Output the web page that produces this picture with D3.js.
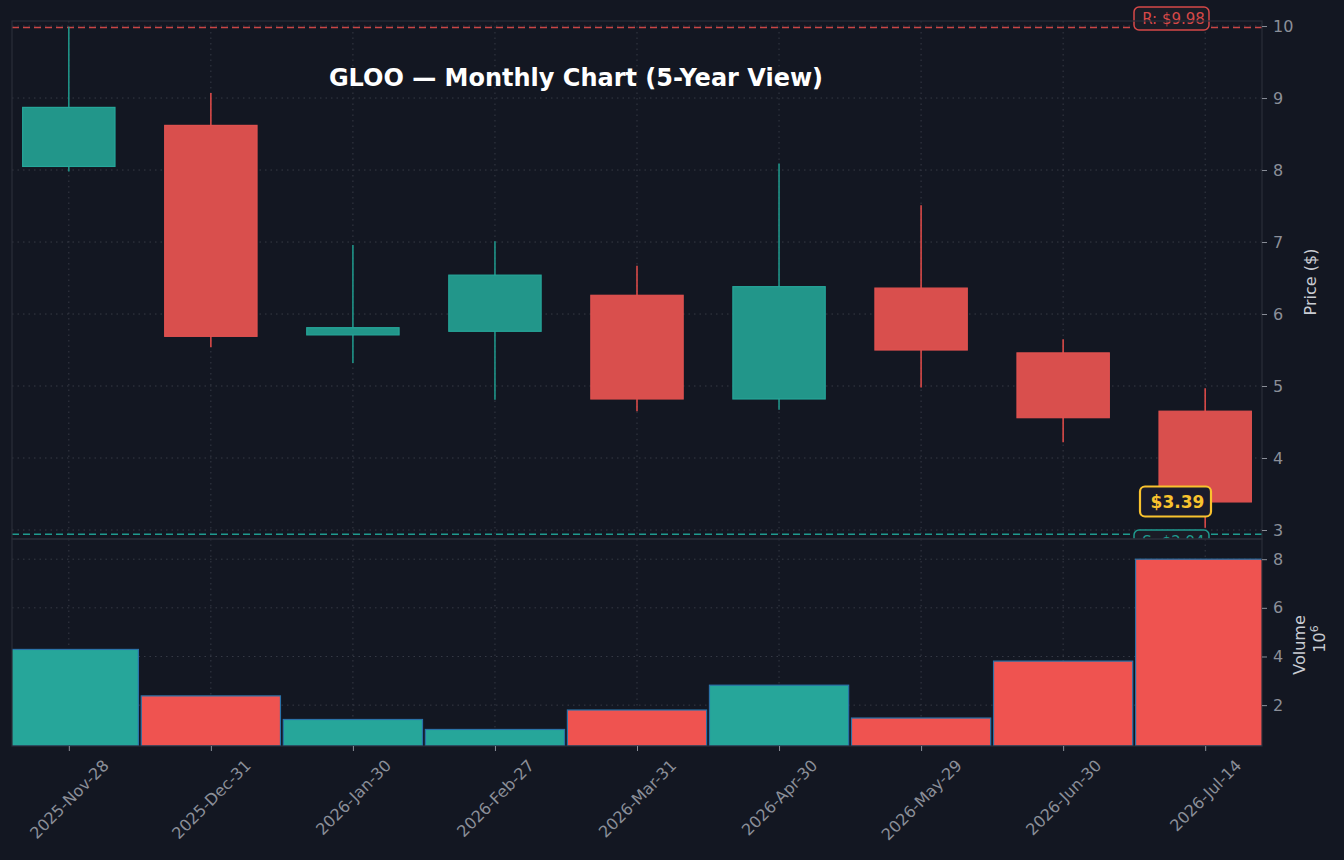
<!DOCTYPE html>
<html><head><meta charset="utf-8">
<script src="https://cdn.jsdelivr.net/npm/d3@7"></script>
<style>
html,body{margin:0;padding:0;background:#131722;}
svg{display:block;font-family:"DejaVu Sans",sans-serif;}
</style></head><body>
<svg id="c" width="1344" height="860"></svg>
<script>
const dates = ["2025-Nov-28","2025-Dec-31","2026-Jan-30","2026-Feb-27","2026-Mar-31","2026-Apr-30","2026-May-29","2026-Jun-30","2026-Jul-14"];
const opens  = [8.05, 8.62, 5.71, 5.76, 6.26, 4.82, 6.36, 5.46, 4.65];
const closes = [8.87, 5.69, 5.81, 6.54, 4.82, 6.38, 5.50, 4.56, 3.39];
const highs  = [9.99, 9.07, 6.96, 7.01, 6.67, 8.09, 7.51, 5.65, 4.97];
const lows   = [7.98, 5.54, 5.32, 4.81, 4.65, 4.67, 4.98, 4.22, 3.03];
const volumes = [4.29, 2.38, 1.41, 1.00, 1.80, 2.82, 1.47, 3.81, 8.00]; // millions
const priceTicks = [3,4,5,6,7,8,9,10];
const volTicks = [2,4,6,8];
const resistance = 9.98, support = 2.94, lastPrice = 3.39;
const title = "GLOO — Monthly Chart (5-Year View)";

const svg = d3.select("#c");
const L = 12, R = 1262, PT = 21, PB = 539, VT = 539, VB = 746;
const GREEN = "#26a69a", RED = "#ef5350";
const BG = "#131722", GRID = "#363a45", FRAME = "#2a2e39", TXT = "#8b8f99";

const x = d3.scaleLinear().domain([-0.4, 8.4]).range([L, R]);
const y = d3.scaleLinear().domain([2.875, 10.07]).range([PB, PT]);
const yv = d3.scaleLinear().domain([0.32, 8.83]).range([VB, VT]);
const step = x(1) - x(0);
const data = dates.map((d,i)=>({d,i,o:opens[i],c:closes[i],h:highs[i],l:lows[i],v:volumes[i]}));

svg.append("rect").attr("width",1344).attr("height",860).attr("fill",BG);

// price panel
const pg = svg.append("g");
pg.selectAll("line.hg").data(priceTicks).join("line")
  .attr("x1",L).attr("x2",R).attr("y1",d=>y(d)).attr("y2",d=>y(d))
  .attr("stroke",GRID).attr("stroke-width",1).attr("stroke-dasharray","1.5,4");
pg.selectAll("line.vg").data(data).join("line")
  .attr("x1",d=>x(d.i)).attr("x2",d=>x(d.i)).attr("y1",PT).attr("y2",PB)
  .attr("stroke",GRID).attr("stroke-width",1).attr("stroke-dasharray","1.5,4");

// support/resistance
pg.append("line").attr("x1",L).attr("x2",R).attr("y1",y(resistance)).attr("y2",y(resistance))
  .attr("stroke","#c94545").attr("stroke-width",1.6).attr("stroke-dasharray","7,4");
pg.append("line").attr("x1",L).attr("x2",R).attr("y1",y(support)).attr("y2",y(support))
  .attr("stroke","#1f9a8e").attr("stroke-width",1.6).attr("stroke-dasharray","7,4");

// candles
const bw = step*0.65;
const cg = pg.selectAll("g.c").data(data).join("g");
cg.append("line").attr("x1",d=>x(d.i)).attr("x2",d=>x(d.i))
  .attr("y1",d=>y(d.h)).attr("y2",d=>y(d.l))
  .attr("stroke",d=>d.c>=d.o?"#1f9488":"#d94a48").attr("stroke-width",1.6);
cg.append("rect").attr("x",d=>x(d.i)-bw/2).attr("width",bw)
  .attr("y",d=>y(Math.max(d.o,d.c))).attr("height",d=>Math.max(1,Math.abs(y(d.o)-y(d.c))))
  .attr("fill",d=>d.c>=d.o?"#22968a":"#d94f4d")
  .attr("stroke",d=>d.c>=d.o?"#26a69a":"#e05250").attr("stroke-width",1.2);

function tag(g, cx, cy, w, h, text, col, fill, fs, bold, sw){
  g.append("rect").attr("x",cx-w/2).attr("y",cy-h/2).attr("width",w).attr("height",h)
    .attr("rx",5).attr("fill",fill).attr("stroke",col).attr("stroke-width",sw);
  g.append("text").attr("x",cx+2).attr("y",cy).attr("dy","0.36em").attr("text-anchor","middle")
    .attr("fill",col).attr("font-size",fs).attr("font-weight",bold?"bold":"normal").text(text);
}
tag(svg, 1171.5, 18.5, 75, 23, "R: $" + resistance.toFixed(2), "#d64848", "#1a1c26", 15, false, 1.5);
tag(svg, 1171.5, 541.5, 75, 23, "S: $" + support.toFixed(2), "#1f9a8e", "#1a1c26", 15, false, 1.5);

// volume panel (covers S tag bottom)
const vg = svg.append("g");
vg.append("rect").attr("x",L).attr("y",VT).attr("width",R-L).attr("height",VB-VT).attr("fill",BG);
vg.selectAll("line.hg").data(volTicks).join("line")
  .attr("x1",L).attr("x2",R).attr("y1",d=>yv(d)).attr("y2",d=>yv(d))
  .attr("stroke",GRID).attr("stroke-width",1).attr("stroke-dasharray","1.5,4");
vg.selectAll("line.vg").data(data).join("line")
  .attr("x1",d=>x(d.i)).attr("x2",d=>x(d.i)).attr("y1",VT).attr("y2",VB)
  .attr("stroke",GRID).attr("stroke-width",1).attr("stroke-dasharray","1.5,4");
const vbw = step*0.98;
vg.append("clipPath").attr("id","vclip").append("rect").attr("x",L).attr("y",VT).attr("width",R-L).attr("height",VB-VT);
vg.append("g").attr("clip-path","url(#vclip)").selectAll("rect").data(data).join("rect")
  .attr("x",d=>x(d.i)-vbw/2).attr("width",vbw)
  .attr("y",d=>yv(d.v)).attr("height",d=>VB-yv(d.v))
  .attr("fill",d=>d.c>=d.o?GREEN:RED).attr("stroke","#2a72a8").attr("stroke-width",1.2);

// last price tag
tag(svg, 1175.5, 501.5, 71, 30, "$" + lastPrice.toFixed(2), "#f9c22e", "#1b1b2b", 17, true, 2.2);

// frames
svg.append("rect").attr("x",L).attr("y",PT).attr("width",R-L).attr("height",PB-PT)
  .attr("fill","none").attr("stroke",FRAME).attr("stroke-width",1.2);
svg.append("rect").attr("x",L).attr("y",VT).attr("width",R-L).attr("height",VB-VT)
  .attr("fill","none").attr("stroke",FRAME).attr("stroke-width",1.2);

// axes
const ay = svg.append("g").attr("transform",`translate(${R},0)`)
  .call(d3.axisRight(y).tickValues(priceTicks).tickSize(5).tickPadding(6).tickFormat(d3.format("d")));
const av = svg.append("g").attr("transform",`translate(${R},0)`)
  .call(d3.axisRight(yv).tickValues(volTicks).tickSize(5).tickPadding(6).tickFormat(d3.format("d")));
const ax = svg.append("g").attr("transform",`translate(0,${VB})`)
  .call(d3.axisBottom(x).tickValues(data.map(d=>d.i)).tickSize(5).tickFormat(i=>dates[i]));
[ay,av,ax].forEach(a=>{
  a.select(".domain").remove();
  a.selectAll(".tick line").attr("stroke",TXT);
  a.selectAll("text").attr("fill",TXT).attr("font-size",16).attr("font-family","DejaVu Sans, sans-serif");
});
ax.selectAll("text").each(function(){
  const t = d3.select(this);
  t.attr("text-anchor","middle").attr("dy","0.35em").attr("y",0);
  const len = this.getComputedTextLength();
  const h = (len + 16) * Math.SQRT1_2;
  t.attr("transform",`translate(0,${11 + h/2}) rotate(-45)`);
});

// axis titles
svg.append("text").attr("transform","translate(1316,282) rotate(-90)").attr("text-anchor","middle")
  .attr("fill","#c9ccd3").attr("font-size",16).text("Price ($)");
svg.append("text").attr("transform","translate(1305,645) rotate(-90)").attr("text-anchor","middle")
  .attr("fill","#c9ccd3").attr("font-size",16).text("Volume");
const t6 = svg.append("text").attr("transform","translate(1325,639) rotate(-90)").attr("text-anchor","middle")
  .attr("fill","#c9ccd3").attr("font-size",16);
t6.append("tspan").text("10");
t6.append("tspan").attr("font-size",11).attr("dy","-7").text("6");

// title
svg.append("text").attr("x",576).attr("y",78).attr("dy","0.35em").attr("text-anchor","middle")
  .attr("fill","#ffffff").attr("font-size",24).attr("font-weight","bold").text(title);
</script>
</body></html>
